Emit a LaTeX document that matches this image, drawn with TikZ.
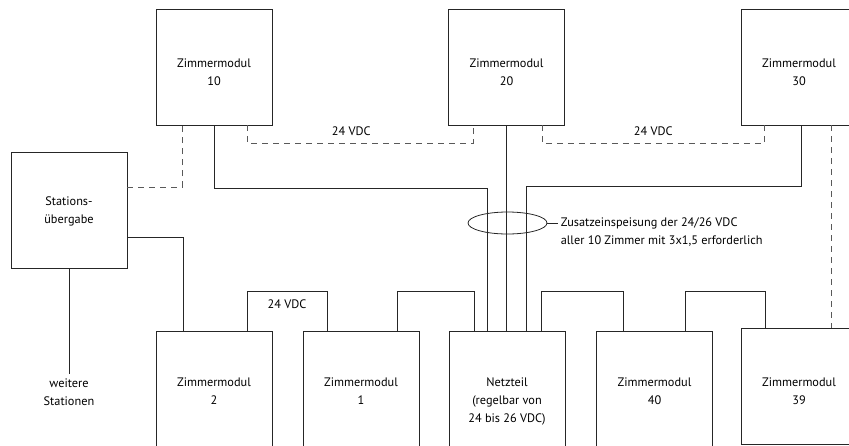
\documentclass[tikz,border=0pt]{standalone}
\usepackage{fontspec}
\setmainfont{PT Sans}
\usetikzlibrary{positioning, shapes.geometric}

\begin{document}
\begin{tikzpicture}[
    x=1pt, y=-1pt,
    every node/.style={font=\fontsize{12.3}{18}\selectfont},
    modul/.style={
        rectangle,
        draw=black!85,
        minimum width=116pt,
        minimum height=116pt,
        inner sep=0pt,
        line width=0.8pt
    },
    beschr/.style={align=center, anchor=north, inner sep=0pt},
    leitung/.style={draw=black!85, line width=0.8pt},
    bus/.style={leitung, draw=black!65, dash pattern=on 6pt off 5pt}
]
\useasboundingbox (0,0) rectangle (849,445);

% ==================== OBERE REIHE ====================
\node[modul] (z10) at (214,67) {};
\node[modul] (z20) at (506.5,67) {};
\node[modul] (z30) at (799,67) {};
\node[beschr, below=50pt of z10.north] (t10) {Zimmermodul\\10};
\node[beschr, below=50pt of z20.north] (t20) {Zimmermodul\\20};
\node[beschr, below=50pt of z30.north] (t30) {Zimmermodul\\30};

% ==================== STATIONSUEBERGABE ====================
\node[modul] (station) at (69,210) {};
\node[beschr, below=45pt of station.north] (tstation) {Stations-\\übergabe};
\node[beschr] (weitere) at (69,379) {weitere\\Stationen};
\draw[leitung, shorten >=5pt] (station.south) -- (weitere.north);

% ==================== UNTERE REIHE ====================
\node[modul] (z2) at (214,389) {};
\node[modul] (z1) at (361,389) {};
\node[modul] (netz) at (507,389) {};
\node[modul] (z40) at (654.5,389) {};
\node[modul] (z39) at (799,386) {};
\node[beschr, below=47pt of z2.north] (t2) {Zimmermodul\\2};
\node[beschr, below=47pt of z1.north] (t1) {Zimmermodul\\1};
\node[beschr, below=47pt of netz.north] (tnetz) {Netzteil\\(regelbar von\\24 bis 26 VDC)};
\node[beschr, below=47pt of z40.north] (t40) {Zimmermodul\\40};
\node[beschr, below=50pt of z39.north] (t39) {Zimmermodul\\39};

% 24 VDC Bus (gestrichelt)
\draw[bus] ([yshift=23pt]station.east) -| ([xshift=27pt]z10.south west);
\draw[bus] ([xshift=-25pt]z10.south east) -- ++(0,18)
    -| node[pos=0.23, above=4pt] {24 VDC} ([xshift=25pt]z20.south west);
\draw[bus] ([xshift=-23pt]z20.south east) -- ++(0,18)
    -| node[pos=0.25, above=4pt] {24 VDC} ([xshift=24pt]z30.south west);
\draw[bus] ([xshift=32pt]z30.south) -- ([xshift=32pt]z39.north);

% Einspeisung zum Netzteil
\draw[leitung] ([yshift=-27pt]station.east) -| ([xshift=-31pt]z2.north);
\draw[leitung] (z10.south) -- ++(0,63) -| ([xshift=-20pt]netz.north);
\draw[leitung] (z20.south) -- (z20.south |- netz.north);
\draw[leitung] ([xshift=2pt]z30.south) -- ++(0,61) -| ([xshift=19pt]netz.north);

\node[ellipse, draw=black!85, line width=0.8pt, minimum width=79pt,
    minimum height=22pt, inner sep=0pt] (kabel) at (507.5,223) {};
\draw[leitung] (kabel.east) -- ++(11,0)
    node[right=2pt, align=left, inner sep=0pt, anchor=north west, yshift=6pt] (hinweis)
    {Zusatzeinspeisung der 24/26 VDC\\aller 10 Zimmer mit 3x1,5 erforderlich};

% Verbindungen der unteren Reihe
\draw[leitung] ([xshift=33pt]z2.north) -- ++(0,-39)
    -| node[pos=0.25, below=4pt] {24 VDC} ([xshift=-34pt]z1.north);
\draw[leitung] ([xshift=36pt]z1.north) -- ++(0,-39) -| ([xshift=-33pt]netz.north);
\draw[leitung] ([xshift=34pt]netz.north) -- ++(0,-39) -| ([xshift=-31.5pt]z40.north);
\draw[leitung] ([xshift=30.5pt]z40.north) -- ++(0,-39) -| ([xshift=-34pt]z39.north);

\end{tikzpicture}
\end{document}
